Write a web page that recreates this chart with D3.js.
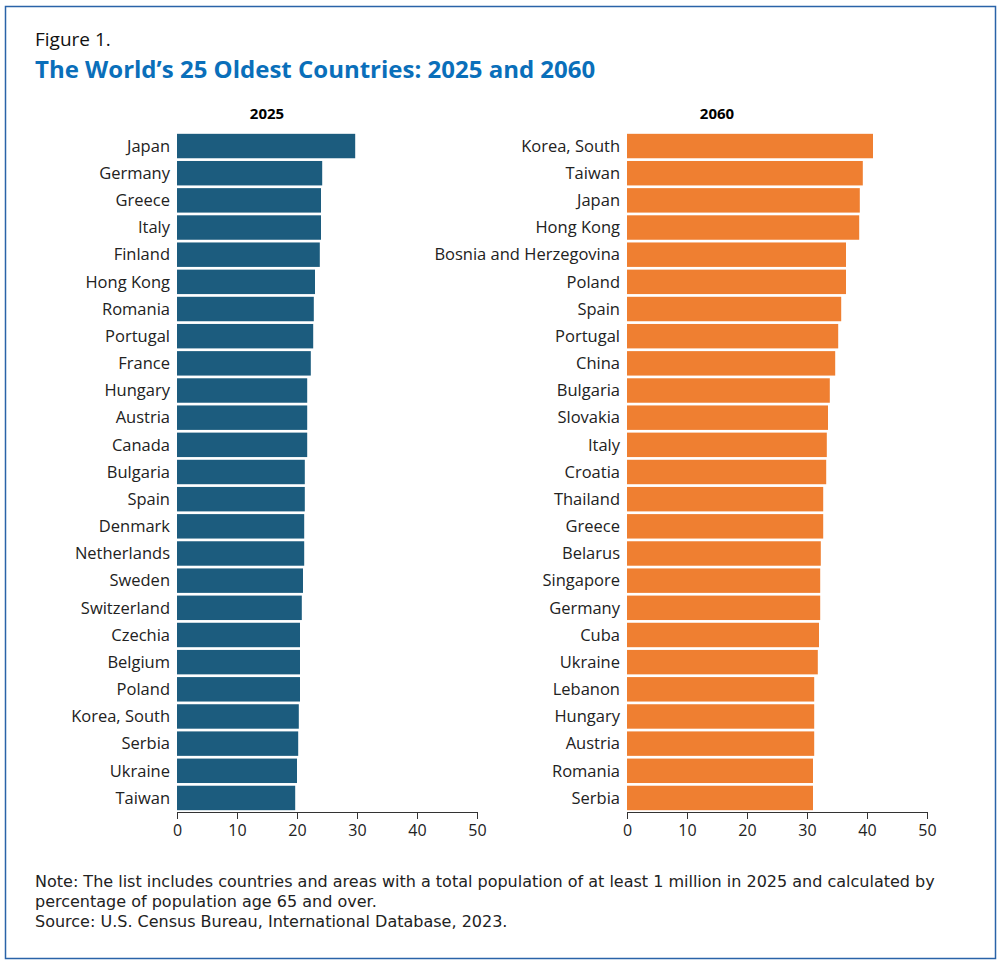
<!DOCTYPE html>
<html><head><meta charset="utf-8">
<script src="https://cdn.jsdelivr.net/npm/d3@7"></script>
<style>body{margin:0;background:#fff;font-family:"Open Sans",sans-serif;}</style>
</head><body><svg id="c" width="1000" height="965"></svg>
<script>
const countries2025=["Japan","Germany","Greece","Italy","Finland","Hong Kong","Romania","Portugal","France","Hungary","Austria","Canada","Bulgaria","Spain","Denmark","Netherlands","Sweden","Switzerland","Czechia","Belgium","Poland","Korea, South","Serbia","Ukraine","Taiwan"];
const values2025=[29.7,24.2,24.0,24.0,23.8,23.0,22.8,22.7,22.3,21.7,21.7,21.7,21.3,21.3,21.2,21.2,21.0,20.8,20.5,20.5,20.5,20.3,20.2,20.0,19.7];
const countries2060=["Korea, South","Taiwan","Japan","Hong Kong","Bosnia and Herzegovina","Poland","Spain","Portugal","China","Bulgaria","Slovakia","Italy","Croatia","Thailand","Greece","Belarus","Singapore","Germany","Cuba","Ukraine","Lebanon","Hungary","Austria","Romania","Serbia"];
const values2060=[41.0,39.3,38.8,38.7,36.5,36.5,35.7,35.2,34.7,33.8,33.5,33.3,33.2,32.7,32.7,32.3,32.2,32.2,32.0,31.8,31.2,31.2,31.2,31.0,31.0];
const ticks=[0,10,20,30,40,50];
const F="'Open Sans',sans-serif";
const svg=d3.select("#c").attr("font-family",F);
svg.append("rect").attr("x",5.5).attr("y",6.5).attr("width",990).attr("height",952).attr("fill","none").attr("stroke","#2a63a8").attr("stroke-width",1.5);
svg.append("text").attr("x",35).attr("y",46).attr("font-size",19).attr("fill","#111").text("Figure 1.");
svg.append("text").attr("x",35).attr("y",78).attr("font-size",24).attr("font-weight","bold").attr("fill","#0a6fba").text("The World’s 25 Oldest Countries: 2025 and 2060");
function panel(x0,title,cats,vals,color){
  const x=d3.scaleLinear().domain([0,50]).range([x0,x0+300]);
  const y=d3.scaleBand().domain(cats).range([133,811]).paddingInner(0.1).paddingOuter(0.03);
  svg.append("text").attr("x",x(15)).attr("y",119).attr("text-anchor","middle").attr("font-size",15).attr("font-weight","bold").text(title);
  svg.selectAll(null).data(cats).enter().append("rect").attr("x",x(0)).attr("y",d=>y(d)).attr("height",y.bandwidth()).attr("width",(d,i)=>x(vals[i])-x(0)).attr("fill",color);
  svg.selectAll(null).data(cats).enter().append("text").attr("x",x0-7).attr("y",d=>y(d)+y.bandwidth()/2).attr("dy","0.35em").attr("text-anchor","end").attr("font-size",16.5).attr("fill","#222").text(d=>d);
  const g=svg.append("g").attr("transform","translate(0,812)").call(d3.axisBottom(x).tickValues(ticks).tickSize(7).tickPadding(6));
  g.selectAll("text").attr("font-size",16).attr("fill","#222").attr("font-family",F);
  g.selectAll("line,path").attr("stroke","#333");
}
panel(177,"2025",countries2025,values2025,"#1c5c7e");
panel(627,"2060",countries2060,values2060,"#ef7f31");
const notes=["Note: The list includes countries and areas with a total population of at least 1 million in 2025 and calculated by","percentage of population age 65 and over.","Source: U.S. Census Bureau, International Database, 2023."];
svg.selectAll(null).data(notes).enter().append("text").attr("x",35).attr("y",(d,i)=>887+i*20).attr("font-size",16).attr("font-family","'DejaVu Sans',sans-serif").attr("fill","#222").text(d=>d);
</script></body></html>
